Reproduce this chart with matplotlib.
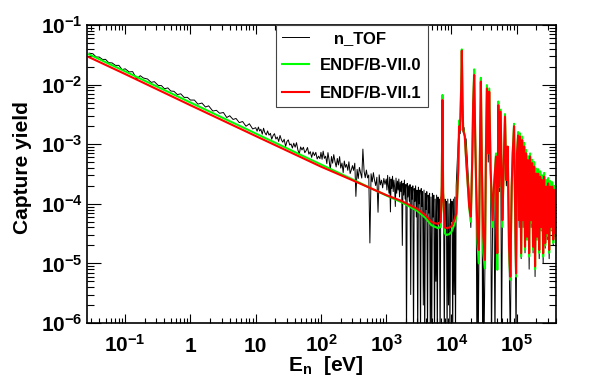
import matplotlib
matplotlib.use("Agg")
import matplotlib.pyplot as plt
import numpy as np
from matplotlib.ticker import LogLocator, NullFormatter

plt.rcParams['font.family'] = ['Liberation Sans', 'DejaVu Sans']
plt.rcParams['font.weight'] = 'bold'
plt.rcParams['axes.labelweight'] = 'bold'
plt.rcParams['mathtext.fontset'] = 'custom'
plt.rcParams['mathtext.rm'] = 'Liberation Sans:bold'
plt.rcParams['mathtext.bf'] = 'Liberation Sans:bold'
plt.rcParams['mathtext.it'] = 'Liberation Sans:bold'
plt.rcParams['mathtext.sf'] = 'Liberation Sans:bold'

# n_TOF capture yield (eV, yield)
ntof_e_low = [0.028, 0.032, 0.036, 0.040, 0.045, 0.050, 0.056, 0.063, 0.071, 0.080, 0.090,
              0.10, 0.115, 0.13, 0.15, 0.17, 0.19, 0.22, 0.25, 0.28, 0.32, 0.36, 0.40, 0.45,
              0.50, 0.56, 0.63, 0.71, 0.80, 0.90,
              1.0, 1.15, 1.3, 1.5, 1.7, 1.9, 2.2, 2.5, 2.8, 3.2, 3.6, 4.0, 4.5, 5.0, 5.6, 6.3,
              7.1, 8.0, 9.0]
ntof_y_low = [3.37e-2, 3.29e-2, 2.90e-2, 2.90e-2, 2.64e-2, 2.65e-2, 2.33e-2, 2.31e-2, 2.10e-2, 2.10e-2, 1.78e-2,
              1.84e-2, 1.63e-2, 1.65e-2, 1.25e-2, 1.41e-2, 1.29e-2, 1.24e-2, 1.09e-2, 1.12e-2, 9.7e-3,
              9.6e-3, 8.5e-3, 8.8e-3, 7.8e-3, 7.7e-3, 6.8e-3, 7.0e-3, 6.1e-3, 6.1e-3,
              5.5e-3, 5.5e-3, 4.7e-3, 4.9e-3, 4.2e-3, 4.4e-3, 3.6e-3, 3.7e-3, 3.3e-3, 3.4e-3,
              2.8e-3, 3.0e-3, 2.6e-3, 2.7e-3, 2.3e-3, 2.4e-3, 2.0e-3, 2.2e-3, 1.8e-3]

ntof_e_10 = [10, 10.5, 11, 11.5, 12, 12.6, 13.2, 13.8, 14.5, 15.2,
             16, 16.8, 17.6, 18.5, 19.4, 20.4, 21.4, 22.5, 23.6, 24.8,
             26, 27.3, 28.7, 30.1, 31.6, 33.2, 34.8, 36.5, 38.3, 40.2,
             42.2, 44.3, 46.5, 48.8, 51.2, 53.8, 56.5, 59.3, 62.2, 65.3,
             68.6, 72, 75.6, 79.4, 83.4, 87.5, 91.9, 96.5]
ntof_y_10 = [1.89e-3, 1.65e-3, 1.94e-3, 1.66e-3, 1.78e-3, 1.47e-3, 1.85e-3, 1.56e-3, 1.43e-3, 1.67e-3,
             1.42e-3, 1.52e-3, 1.21e-3, 1.40e-3, 1.50e-3, 1.22e-3, 1.32e-3, 1.11e-3, 1.40e-3, 1.18e-3,
             1.08e-3, 1.21e-3, 9.15e-4, 1.11e-3, 1.18e-3, 9.7e-4, 1.01e-3, 8.6e-4, 1.04e-3, 8.9e-4,
             1.06e-3, 8.0e-4, 6.8e-4, 9.0e-4, 8.0e-4, 8.9e-4, 7.2e-4, 7.8e-4, 8.8e-4, 6.8e-4,
             7.5e-4, 6.0e-4, 7.4e-4, 6.45e-4, 7.3e-4, 5.65e-4, 6.3e-4, 5.7e-4]

ntof_e_100 = [100, 104, 108, 113, 118, 123, 128, 133, 139, 145,
              151, 157, 164, 171, 178, 185, 193, 201, 210, 219,
              228, 237, 247, 258, 268, 280, 291, 304, 316, 330,
              343, 358, 373, 388, 405, 422, 439, 458, 477, 497,
              518, 540, 562, 586, 610, 636, 662, 690, 719, 749,
              780, 813, 847, 882, 919, 958]
ntof_y_100 = [7.30e-4, 5.58e-4, 7.65e-4, 5.78e-4, 6.29e-4, 4.72e-4, 7.22e-4, 5.50e-4, 3.66e-4, 6.22e-4,
              4.80e-4, 6.68e-4, 5.12e-4, 4.15e-4, 5.76e-4, 4.48e-4, 6.18e-4, 3.98e-4, 4.82e-4, 3.34e-4,
              5.22e-4, 4.09e-4, 4.58e-4, 3.64e-4, 5.07e-4, 3.22e-4, 3.67e-4, 4.37e-4, 3.64e-4, 4.80e-4,
              1.33e-4, 3.78e-4, 2.66e-4, 4.07e-4, 3.32e-4, 2.70e-4, 8.27e-4, 3.52e-4, 2.74e-4, 3.68e-4,
              2.72e-4, 3.04e-4, 2.2e-5, 3.19e-4, 2.33e-4, 3.33e-4, 2.48e-4, 2.02e-4, 2.79e-4, 7.2e-5,
              3.06e-4, 2.08e-4, 2.49e-4, 1.85e-4, 2.66e-4, 2.12e-4]

ntof_e_1k = [1000, 1025, 1051, 1077, 1104, 1131, 1160, 1189, 1218, 1249,
             1280, 1312, 1345, 1379, 1413, 1448, 1485, 1522, 1560, 1599,
             1639, 1680, 1722, 1765, 1809, 1854, 1900, 1948, 1997, 2046,
             2098, 2150, 2204, 2259, 2315, 2373, 2433, 2493, 2556, 2620,
             2685, 2752, 2821, 2892, 2964, 3038, 3114, 3192, 3271, 3353,
             3437, 3523, 3611, 3701, 3794, 3889, 3986, 4085, 4187, 4292,
             4400, 4509, 4622, 4738, 4856, 4978, 5102, 5230, 5360, 5494,
             5632, 5772, 5917, 6065, 6216, 6372, 6531, 6694, 6862, 7033,
             7209, 7389, 7574, 7763, 7958, 8157, 8360, 8569, 8784, 9003,
             9228, 9459, 9696, 9938, 10187, 10441, 10702, 10970, 11244, 11525,
             11813]
ntof_y_1k = [2.6e-4, 1.7e-4, 3.0e-4, 2.0e-4, 1.5e-4, 2.8e-4, 7.3e-5, 2.6e-4, 1.8e-4, 2.9e-4,
             1.6e-4, 2.5e-4, 1.9e-4, 9.0e-5, 2.7e-4, 1.5e-4, 2.4e-4, 1.7e-4, 2.6e-4, 1.3e-4,
             2.3e-4, 1.6e-4, 2.4e-4, 2.0e-5, 2.2e-4, 1.4e-4, 2.5e-4, 1.2e-4, 2.1e-4, 4e-7,
             2.2e-4, 1.3e-4, 2.0e-4, 1.1e-4, 2.1e-4, 3e-6, 1.9e-4, 1.2e-4, 2.0e-4, 4e-7,
             1.8e-4, 1.1e-4, 2.0e-4, 6e-5, 1.7e-4, 4e-7, 1.9e-4, 1.0e-4, 1.7e-4, 4e-7,
             1.8e-4, 9e-5, 1.6e-4, 2e-6, 1.7e-4, 4e-7, 1.5e-4, 8e-5, 1.6e-4, 4e-7,
             1.4e-4, 7e-5, 1.5e-4, 4e-7, 1.3e-4, 4e-7, 1.5e-4, 6e-5, 1.4e-4, 4e-7,
             1.2e-4, 5e-6, 1.4e-4, 4e-7, 1.3e-4, 5e-5, 1.2e-4, 4e-7, 1.3e-4, 1.3e-4,
             1.5e-3, 1.2e-4, 1.1e-4, 4e-7, 1.2e-4, 4e-5, 1.1e-4, 4e-7, 1.2e-4, 2e-6,
             1.0e-4, 4e-7, 1.2e-4, 5e-5, 1.1e-4, 4e-7, 1.2e-4, 3e-6, 1.3e-4, 4e-7,
             2.0e-4]

ntof_e_res = [12500, 13100, 13600, 14100, 14400, 14800, 15100, 15600, 16000, 16800,
              17600, 18700, 19800, 20800, 21500, 22300, 23100, 23900, 24500, 25100,
              25700, 26300, 27300, 28200, 29300, 30000, 30700, 31500, 32600, 33700,
              34900, 36600, 37900, 39800, 41000, 42700, 44800, 46400, 48100, 50400,
              52200, 54100, 56700, 58500, 60200, 63000, 66100, 69300, 72700, 76200,
              79800, 83700, 86700, 91000, 94200, 97700, 101000, 105000, 109000, 112000,
              117000, 121000, 125000, 130000, 134000, 139000, 144000, 149000, 155000, 160000,
              166000, 172000, 178000, 185000, 191000, 198000, 206000, 213000, 221000, 229000,
              237000, 246000, 254000, 263000, 273000, 283000, 293000, 303000, 314000, 326000,
              337000, 350000, 363000, 376000, 389000, 403000]
ntof_y_res = [8e-4, 2.0e-3, 1.5e-3, 8e-3, 2.5e-2, 4e-3, 1.6e-3, 1.9e-3, 1.4e-3, 1.2e-3,
              5e-4, 1.5e-4, 4e-5, 4e-4, 3e-3, 1.2e-2, 1e-3, 1.5e-4, 4e-7, 3e-5,
              4e-7, 1e-5, 6e-4, 1.0e-2, 3e-4, 4e-7, 2e-5, 4e-7, 1e-5, 6e-4,
              7e-3, 5e-4, 6e-3, 3e-4, 4e-7, 5e-5, 1.6e-4, 4e-7, 5e-4, 1.5e-5,
              3.5e-3, 1.6e-4, 2.8e-3, 4e-7, 4e-5, 3e-4, 2.3e-3, 2e-4, 7e-4, 1.5e-5,
              4e-7, 1.6e-4, 5e-4, 1.6e-3, 8e-5, 4e-7, 5e-4, 1.1e-3, 4e-5, 1.0e-3,
              1.2e-5, 9e-4, 4e-5, 7e-4, 1.5e-5, 5.5e-4, 2.5e-5, 4.5e-4, 8e-6, 5e-4,
              4e-5, 3.8e-4, 1.5e-5, 3.4e-4, 6e-6, 2.6e-4, 2.5e-5, 2.6e-4, 1.2e-5, 2.3e-4,
              3.5e-5, 2.0e-4, 1.0e-5, 2.3e-4, 1.8e-5, 1.6e-4, 2.5e-5, 1.8e-4, 1.2e-5, 1.6e-4,
              3.5e-5, 1.6e-4, 2e-5, 1.4e-4, 2.8e-5, 1.2e-4]

# evaluated yields (ENDF/B-VII.0 green, ENDF/B-VII.1 red) on a common energy grid
model_e = [0.028, 0.1, 1, 10, 100, 300, 1000, 1700, 3000, 4000,
           4900, 5600, 6240, 6850, 7100, 7270, 7450, 7900, 8370, 9300,
           10000, 11000, 11900, 12700, 13100, 13600, 14100, 14400, 14800, 15100,
           16000, 16800, 17600, 18700, 19800, 20800, 21500, 22300, 23100, 23900,
           25100, 26300, 27300, 28200, 29300, 30700, 32600, 33700, 34900, 36600,
           37900, 39800, 42700, 44800, 48100, 50400, 52200, 54100, 56700, 60200,
           63000, 66100, 69300, 72700, 76200, 79800, 83700, 86700, 91000, 94200,
           97700, 101000, 105000, 109000, 112000, 117000, 121000, 125000, 130000, 134000,
           139000, 144000, 149000, 155000, 160000, 166000, 172000, 178000, 185000, 191000,
           198000, 206000, 213000, 221000, 229000, 237000, 246000, 254000, 263000, 273000,
           283000, 293000, 303000, 314000, 326000, 337000, 350000, 363000, 376000, 389000,
           403000, 417000]
endf70_y = [3.21e-2, 1.66e-2, 5.0e-3, 1.51e-3, 4.56e-4, 2.58e-4, 1.38e-4, 1.07e-4, 7.6e-5, 5.8e-5,
            4.4e-5, 4.1e-5, 3.9e-5, 4.1e-5, 1.9e-4, 6.7e-3, 1.6e-4, 3.2e-5, 3.0e-5, 3.1e-5,
            3.4e-5, 4.4e-5, 6.1e-5, 3.7e-4, 2.5e-3, 2.4e-3, 1.0e-2, 3.9e-2, 5.0e-3, 1.8e-3,
            1.4e-3, 5.4e-4, 2.5e-4, 8.5e-5, 5.0e-5, 5.4e-4, 5.0e-3, 1.8e-2, 1.4e-3, 1.9e-4,
            2.2e-5, 1.0e-5, 7.0e-4, 1.3e-2, 3.7e-4, 1.5e-5, 8.3e-6, 7.0e-4, 9.8e-3, 7.0e-4,
            8.6e-3, 3.7e-4, 4.1e-5, 1.9e-4, 7.0e-4, 7.8e-6, 5.2e-3, 1.9e-4, 3.8e-3, 4.1e-5,
            3.7e-4, 3.2e-3, 2.5e-4, 9.1e-4, 1.5e-5, 5.3e-6, 1.9e-4, 7.0e-4, 2.2e-3, 1.0e-4,
            6.0e-6, 7.0e-4, 1.6e-3, 5.3e-5, 1.52e-3, 1.3e-5, 1.34e-3, 5.3e-5, 1.05e-3, 1.7e-5,
            8.0e-4, 2.5e-5, 6.3e-4, 1.3e-5, 7.0e-4, 4.8e-5, 5.5e-4, 1.7e-5, 5.0e-4, 8.0e-6,
            3.9e-4, 2.5e-5, 3.8e-4, 1.5e-5, 3.5e-4, 3.7e-5, 3.0e-4, 1.3e-5, 3.3e-4, 2.0e-5,
            2.5e-4, 2.9e-5, 2.7e-4, 1.5e-5, 2.4e-4, 3.7e-5, 2.3e-4, 2.2e-5, 2.0e-4, 2.9e-5,
            1.75e-4, 4.8e-5]
endf71_y = [2.88e-2, 1.50e-2, 4.5e-3, 1.37e-3, 4.2e-4, 2.5e-4, 1.40e-4, 1.12e-4, 8.2e-5, 6.4e-5,
            5.0e-5, 4.7e-5, 4.6e-5, 5.0e-5, 2.0e-4, 5.5e-3, 1.5e-4, 4.0e-5, 3.9e-5, 4.0e-5,
            4.2e-5, 5.3e-5, 6.9e-5, 3.7e-4, 2.0e-3, 1.73e-3, 9.0e-3, 3.7e-2, 4.8e-3, 1.73e-3,
            1.34e-3, 5.4e-4, 2.5e-4, 9.0e-5, 6.1e-5, 5.4e-4, 4.8e-3, 1.45e-2, 1.34e-3, 1.94e-4,
            2.8e-5, 1.68e-5, 7.0e-4, 1.12e-2, 3.7e-4, 2.8e-5, 1.14e-5, 7.0e-4, 8.6e-3, 7.0e-4,
            7.6e-3, 3.7e-4, 5.3e-5, 1.94e-4, 6.2e-4, 1.48e-5, 4.5e-3, 1.94e-4, 3.5e-3, 5.3e-5,
            3.7e-4, 2.9e-3, 2.5e-4, 9.1e-4, 1.9e-5, 6.0e-6, 1.94e-4, 7.0e-4, 2.0e-3, 1.0e-4,
            6.8e-6, 7.0e-4, 1.4e-3, 5.3e-5, 1.34e-3, 1.48e-5, 1.17e-3, 5.3e-5, 9.1e-4, 1.9e-5,
            7.0e-4, 2.8e-5, 5.4e-4, 1.48e-5, 6.2e-4, 5.3e-5, 4.8e-4, 1.9e-5, 4.2e-4, 8.9e-6,
            3.2e-4, 2.8e-5, 3.2e-4, 1.68e-5, 2.85e-4, 4.1e-5, 2.5e-4, 1.48e-5, 2.85e-4, 2.2e-5,
            1.94e-4, 3.2e-5, 2.2e-4, 1.68e-5, 1.94e-4, 4.1e-5, 1.94e-4, 2.5e-5, 1.7e-4, 3.2e-5,
            1.5e-4, 5.3e-5]

x_ticks = [0.1, 1, 10, 100, 1000, 1e4, 1e5]
x_tick_labels = [r'$10^{-1}$', '1', '10', r'$10^{2}$', r'$10^{3}$', r'$10^{4}$', r'$10^{5}$']
y_ticks = [1e-6, 1e-5, 1e-4, 1e-3, 1e-2, 1e-1]
y_tick_labels = [r'$10^{-6}$', r'$10^{-5}$', r'$10^{-4}$', r'$10^{-3}$', r'$10^{-2}$', r'$10^{-1}$']

ntof_e = ntof_e_low + ntof_e_10 + ntof_e_100 + ntof_e_1k + ntof_e_res
ntof_y = ntof_y_low + ntof_y_10 + ntof_y_100 + ntof_y_1k + ntof_y_res

fig = plt.figure(figsize=(5.98, 3.82), dpi=100)
ax = fig.add_axes([0.1455, 0.1545, 0.7843, 0.7801])

ax.plot(ntof_e, ntof_y, color='black', lw=0.7, label='   n_TOF')
ax.plot(model_e, endf70_y, color='#00ff00', lw=1.5, label='ENDF/B-VII.0')
ax.plot(model_e, endf71_y, color='#ff0000', lw=1.5, label='ENDF/B-VII.1')

ax.set_xscale('log')
ax.set_yscale('log')
ax.set_xlim(0.026, 4.0e5)
ax.set_ylim(1e-6, 1e-1)

ax.set_xticks(x_ticks, x_tick_labels)
ax.set_yticks(y_ticks, y_tick_labels)
ax.xaxis.set_minor_locator(LogLocator(base=10, subs=np.arange(2, 10), numticks=50))
ax.yaxis.set_minor_locator(LogLocator(base=10, subs=np.arange(2, 10), numticks=50))
ax.xaxis.set_minor_formatter(NullFormatter())
ax.yaxis.set_minor_formatter(NullFormatter())

ax.tick_params(which='both', direction='in', top=True, right=True, width=0.8, labelsize=15)
ax.tick_params(axis='x', which='major', length=6.5, pad=21)
ax.tick_params(axis='x', which='minor', length=3.3)
ax.tick_params(axis='y', which='major', length=10, pad=3)
ax.tick_params(axis='y', which='minor', length=5)
for lbl in ax.get_xticklabels():
    lbl.set_va('baseline')

for sp in ax.spines.values():
    sp.set_linewidth(1.2)

ax.set_xlabel(r'E$_{n}$  [eV]', fontsize=15)
ax.xaxis.set_label_coords(0.51, -0.105)
ax.set_ylabel('Capture yield', fontsize=15)
ax.yaxis.set_label_coords(-0.118, 0.52)

leg = ax.legend(loc='upper left', bbox_to_anchor=(0.403, 1.0), borderaxespad=0, fontsize=12,
                handlelength=1.6, handletextpad=0.7, labelspacing=0.75, borderpad=0.35,
                fancybox=False, edgecolor='#444444', framealpha=1)
leg.get_frame().set_linewidth(0.8)

fig.savefig('out.png', dpi=100)
